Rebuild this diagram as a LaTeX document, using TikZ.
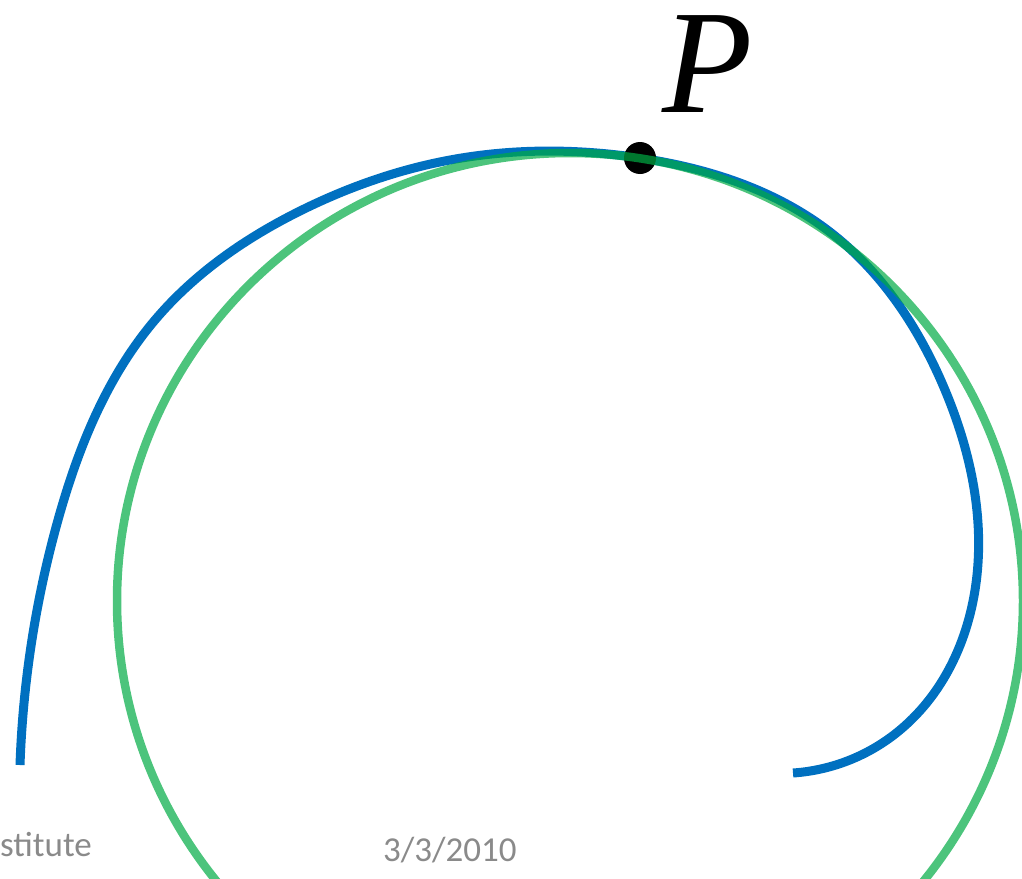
\documentclass[tikz,border=0pt]{standalone}
\usepackage{fontspec}
\setmainfont{Liberation Serif}
\newfontfamily\footfont{Carlito}
\usepackage{tikz}
\usetikzlibrary{positioning, hobby}
\definecolor{curveblue}{RGB}{0,112,192}
\definecolor{circlegreen}{RGB}{0,171,68}
\definecolor{footgray}{RGB}{138,138,138}
\begin{document}
\begin{tikzpicture}[
  x=1pt, y=-1pt,
  spiral/.style={line width=9pt, curveblue, use Hobby shortcut},
  osculating/.style={line width=8.5pt, circlegreen, opacity=0.7},
  dot/.style={circle, fill=black, minimum size=32pt, inner sep=0pt},
  plabel/.style={font=\fontsize{148}{148}\selectfont\itshape, inner sep=0pt,
                 text height=100pt, text depth=0pt},
  foot/.style={font=\footfont\fontsize{35}{35}\selectfont, text=footgray, inner sep=0pt},
]
\useasboundingbox (0,0) rectangle (1022,878);
\clip (0,0) rectangle (1022,878);

% Curve
\coordinate (start) at (20,765);
\coordinate (stop) at (793,773);
\draw[spiral] (start) .. (58,520) .. (155,320) .. (302,210) .. (450,160)
  .. (640,158) .. (830,232) .. (945,390) .. (977,575) .. (900,730) .. (stop);

% Point
\node[dot] (P) at (640,158) {};
\node[plabel, anchor=base west] (Plabel) at (662,112) {P};

% Circle
\coordinate (centre) at (570,601);
\draw[osculating] (centre) ellipse [x radius=453, y radius=448];

% Footer
\node[foot, anchor=base west] (inst) at (0,856) {stitute};
\node[foot, anchor=base west] (date) at (383,861) {3/3/2010};
\end{tikzpicture}
\end{document}
